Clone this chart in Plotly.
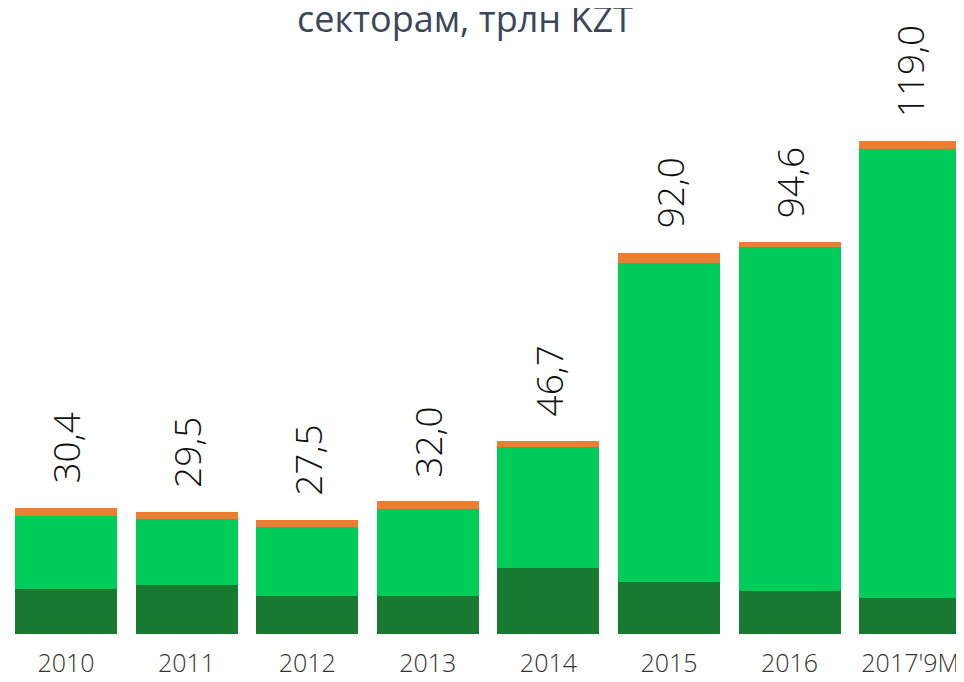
import plotly.graph_objects as go

years = ["2010", "2011", "2012", "2013", "2014", "2015", "2016", "2017'9M"]
dark_part = [10.9, 11.8, 9.2, 9.2, 15.9, 12.6, 10.4, 8.7]
green_part = [17.6, 16.0, 16.6, 21.0, 29.2, 76.9, 83.0, 108.4]
orange_part = [1.9, 1.7, 1.7, 1.8, 1.6, 2.5, 1.2, 1.9]
totals = [30.4, 29.5, 27.5, 32.0, 46.7, 92.0, 94.6, 119.0]
total_labels = ["30,4", "29,5", "27,5", "32,0", "46,7", "92,0", "94,6", "119,0"]

FONT = "Open Sans"

fig = go.Figure()
for vals, color in [(dark_part, "#187a30"), (green_part, "#00cc5a"), (orange_part, "#ed7d31")]:
    fig.add_trace(go.Bar(x=years, y=vals, marker_color=color, marker_line_width=0,
                         hoverinfo="skip"))

# category positions by index (year strings would be read as numbers)
for i, (tot, lab) in enumerate(zip(totals, total_labels)):
    fig.add_annotation(x=i, y=tot, text=lab, showarrow=False, textangle=-90,
                       yanchor="bottom", yshift=22,
                       font=dict(family=FONT, size=37, color="#111111", weight=300))

fig.add_annotation(xref="paper", yref="paper", x=0.478, y=1 - 11 / 626,
                   text="секторам, трлн KZT", showarrow=False,
                   xanchor="center", yanchor="middle",
                   font=dict(family=FONT, size=36, color="#3b4658"))

# page body keeps an 8px margin, so the figure is sized to fit inside it
fig.update_layout(
    barmode="stack", bargap=0.155, showlegend=False,
    width=956, height=666,
    margin=dict(l=0, r=0, t=0, b=40),
    paper_bgcolor="white", plot_bgcolor="white",
    xaxis=dict(range=[-0.481, 7.446], showgrid=False, showline=False, zeroline=False,
               ticks="", ticklabelstandoff=12, automargin=False,
               tickfont=dict(family=FONT, size=25, color="#333333", weight=300)),
    yaxis=dict(range=[0, 151.1], visible=False, automargin=False),
)

fig.write_html("out.html")
